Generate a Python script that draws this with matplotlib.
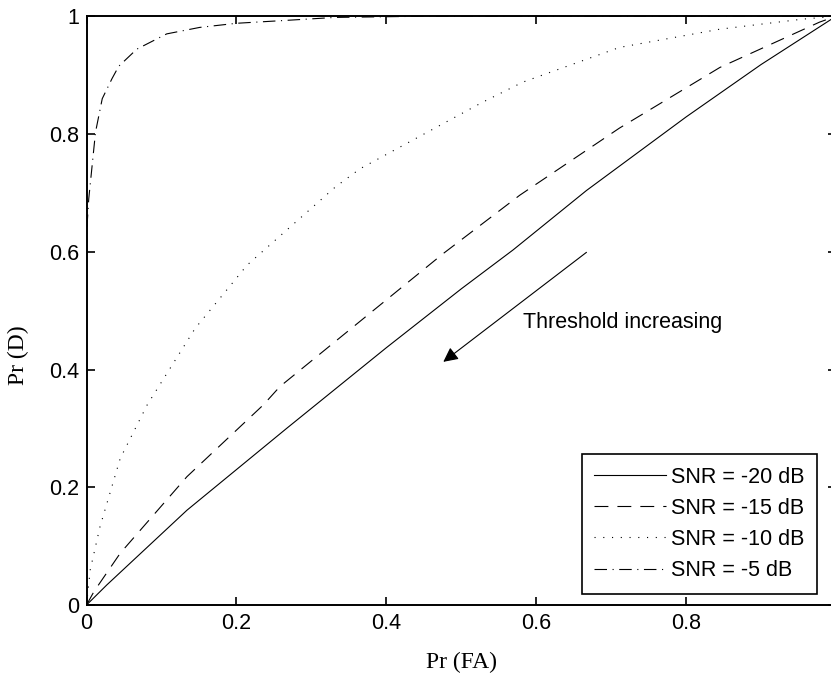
import matplotlib
matplotlib.use('Agg')
import matplotlib.pyplot as plt

# ROC curves (Pr(FA), Pr(D))
pfa_20 = [0.0, 0.027, 0.134, 0.267, 0.4, 0.5, 0.569, 0.667, 0.8, 0.9, 1.0]
pd_20 = [0.0, 0.034, 0.161, 0.300, 0.437, 0.537, 0.603, 0.704, 0.829, 0.918, 1.0]

pfa_15 = [0.0, 0.01, 0.045, 0.134, 0.236, 0.258, 0.476, 0.578, 0.711, 0.845, 0.978, 1.0]
pd_15 = [0.0, 0.023, 0.088, 0.218, 0.340, 0.371, 0.597, 0.696, 0.810, 0.913, 0.990, 1.0]

pfa_10 = [0.0, 0.005, 0.018, 0.045, 0.081, 0.145, 0.198, 0.214, 0.332, 0.365,
          0.527, 0.582, 0.711, 0.845, 0.955, 1.0]
pd_10 = [0.0, 0.06, 0.133, 0.249, 0.340, 0.470, 0.552, 0.577, 0.710, 0.741,
         0.853, 0.888, 0.947, 0.978, 0.995, 1.0]

pfa_5 = [0.0, 0.001, 0.003, 0.005, 0.012, 0.021, 0.034, 0.043, 0.067, 0.107,
         0.151, 0.2, 0.267, 0.332, 0.45, 1.0]
pd_5 = [0.6, 0.65, 0.69, 0.715, 0.803, 0.86, 0.894, 0.915, 0.944, 0.970,
        0.981, 0.988, 0.993, 0.998, 1.0, 1.0]

labels = ['SNR = -20 dB', 'SNR = -15 dB', 'SNR = -10 dB', 'SNR = -5 dB']
ticks = [0, 0.2, 0.4, 0.6, 0.8, 1]
tick_labels = ['0', '0.2', '0.4', '0.6', '0.8', '1']

plt.rcParams['font.family'] = 'Liberation Sans'
plt.rcParams['font.size'] = 15.5
plt.rcParams['lines.scale_dashes'] = False

fig = plt.figure(figsize=(8.31, 6.76), dpi=100)
ax = fig.add_axes([0.1041, 0.105, 0.902, 0.871])

lw = 0.8
ax.plot(pfa_20, pd_20, color='black', lw=lw, label=labels[0])
ax.plot(pfa_15, pd_15, color='black', lw=lw, dashes=(10, 6.5), label=labels[1])
ax.plot(pfa_10, pd_10, color='black', lw=lw, dashes=(0.8, 5.5), label=labels[2])
ax.plot(pfa_5, pd_5, color='black', lw=lw, dashes=(9, 4, 0.8, 4), label=labels[3])

ax.set_xlim(0, 1)
ax.set_ylim(0, 1)
ax.set_xticks(ticks)
ax.set_xticklabels(tick_labels)
ax.set_yticks(ticks)
ax.set_yticklabels(tick_labels)
ax.tick_params(direction='in', top=True, right=True, length=5.5, width=1.2, pad=5.5)
for s in ax.spines.values():
    s.set_linewidth(1.4)

ax.set_xlabel('Pr (FA)', family='Liberation Serif', fontsize=17, labelpad=13)
ax.set_ylabel('Pr (D)', family='Liberation Serif', fontsize=17)
ax.yaxis.set_label_coords(-0.077, 0.424)

# arrow and note
ax.annotate('', xy=(0.476, 0.413), xytext=(0.667, 0.599),
            arrowprops=dict(arrowstyle='-|>', color='black', lw=0.8,
                            mutation_scale=22, shrinkA=0, shrinkB=0))
ax.text(0.582, 0.48, 'Threshold increasing', ha='left', va='center')

leg = ax.legend(loc='lower right', bbox_to_anchor=(0.975, 0.0187), borderaxespad=0,
                fancybox=False, edgecolor='black', framealpha=1,
                handlelength=3.3, handletextpad=0.25, labelspacing=0.47,
                borderpad=0.6)
leg.get_frame().set_linewidth(1.2)

plt.savefig('out.png', dpi=100)
